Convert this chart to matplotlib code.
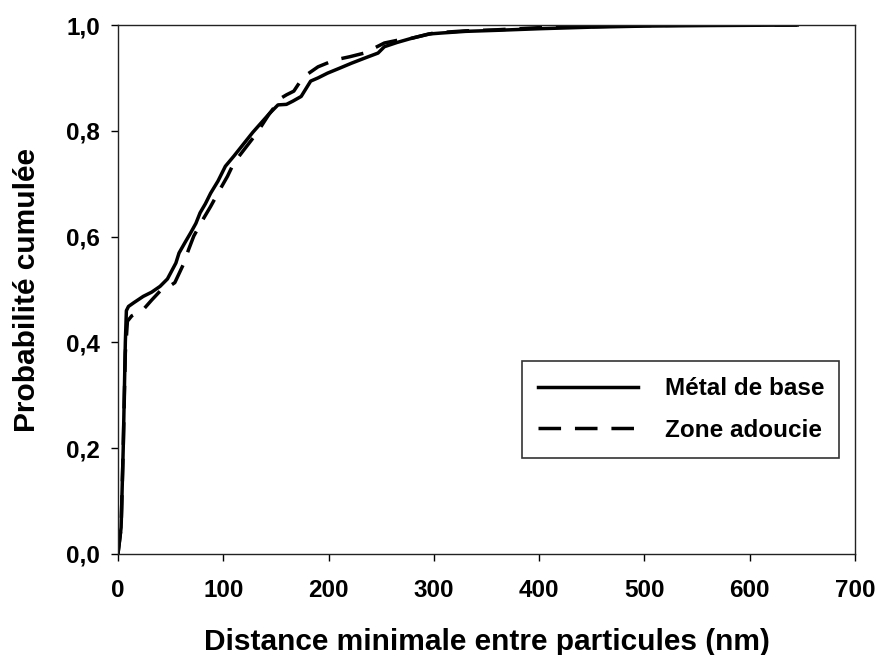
import matplotlib.pyplot as plt

plt.rcParams['font.family'] = ['Liberation Sans', 'DejaVu Sans']
plt.rcParams['font.weight'] = 'bold'

# Métal de base (courbe continue)
x_metal = [0, 3, 5, 7, 8, 10, 15, 24, 32, 40, 47, 51, 55, 58, 64, 69, 74, 78, 83, 88,
           95, 102, 110, 120, 128, 136, 144, 152, 160, 166, 174, 183, 190, 199, 210,
           222, 235, 247, 253, 265, 279, 295, 308, 330, 360, 400, 450, 500, 560, 645]
y_metal = [0, 0.05, 0.2, 0.4, 0.46, 0.468, 0.475, 0.487, 0.495, 0.506, 0.52, 0.535, 0.55,
           0.569, 0.59, 0.607, 0.625, 0.645, 0.662, 0.682, 0.705, 0.733, 0.752, 0.777,
           0.797, 0.815, 0.833, 0.849, 0.85, 0.856, 0.865, 0.894, 0.9, 0.909, 0.918,
           0.928, 0.938, 0.947, 0.959, 0.967, 0.975, 0.983, 0.985, 0.988, 0.99, 0.993,
           0.996, 0.998, 0.999, 1.0]

# Zone adoucie (courbe en tirets)
x_zone = [0, 3, 5, 7, 9, 13, 24, 32, 40, 48, 54, 58, 62, 67, 72, 80, 88, 96, 104, 110,
          120, 132, 143, 155, 160, 167, 172, 177, 190, 206, 220, 234, 245, 253, 265,
          279, 300, 330, 360, 400, 450, 500, 560, 645]
y_zone = [0, 0.05, 0.2, 0.38, 0.44, 0.45, 0.462, 0.48, 0.497, 0.505, 0.513, 0.53, 0.547,
          0.575, 0.601, 0.63, 0.657, 0.686, 0.714, 0.739, 0.765, 0.796, 0.83, 0.862,
          0.868, 0.875, 0.89, 0.903, 0.921, 0.934, 0.94, 0.947, 0.958, 0.966, 0.971,
          0.975, 0.985, 0.989, 0.991, 0.995, 0.997, 0.999, 1.0, 1.0]

xticks = [0, 100, 200, 300, 400, 500, 600, 700]
yticks = [0.0, 0.2, 0.4, 0.6, 0.8, 1.0]
ylabels = ['0,0', '0,2', '0,4', '0,6', '0,8', '1,0']

fig = plt.figure(figsize=(8.77, 6.55), dpi=100)
ax = fig.add_axes([0.1345, 0.1542, 0.8405, 0.8076])

ax.plot(x_metal, y_metal, color='black', lw=2.5, label='Métal de base')
ax.plot(x_zone, y_zone, color='black', lw=2.5, ls=(0, (6.5, 4)), label='Zone adoucie')

ax.set_xlim(0, 700)
ax.set_ylim(0, 1.0)
ax.set_xticks(xticks)
ax.set_yticks(yticks)
ax.set_yticklabels(ylabels)
ax.tick_params(axis='both', direction='out', length=5, width=1, labelsize=17.5)
ax.tick_params(axis='x', pad=13)
ax.tick_params(axis='y', pad=8)
for s in ax.spines.values():
    s.set_linewidth(1)
    s.set_color('#222222')

ax.set_xlabel('Distance minimale entre particules (nm)', fontsize=21.5, fontweight='bold', labelpad=19)
ax.set_ylabel('Probabilité cumulée', fontsize=21.5, fontweight='bold', labelpad=18)

leg = ax.legend(loc='lower left', bbox_to_anchor=(0.548, 0.181, 0.43, 0.18), mode='expand',
                borderaxespad=0, fontsize=17.5, handlelength=4.1, handletextpad=1.1,
                borderpad=0.68, labelspacing=0.75, fancybox=False, frameon=True)
leg.get_frame().set_edgecolor('black')
leg.get_frame().set_linewidth(1.2)
for t in leg.get_texts():
    t.set_fontweight('bold')

plt.savefig('out.png', dpi=100)
